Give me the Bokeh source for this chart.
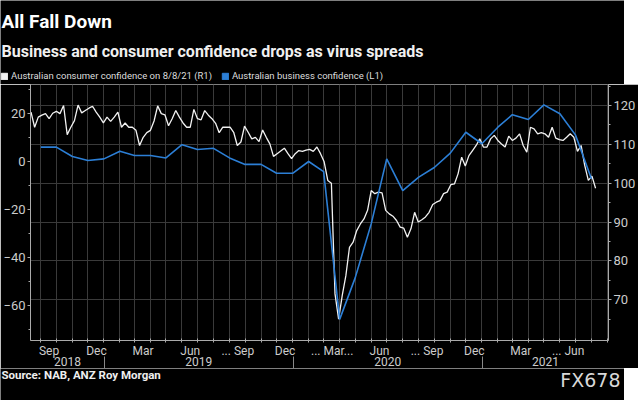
import numpy as np
import pandas as pd
from bokeh.plotting import figure
from bokeh.layouts import column
from bokeh.models import (Range1d, LinearAxis, FixedTicker, Label, Legend, LegendItem)
from bokeh.embed import file_html
from bokeh.resources import INLINE

# ---------------- text ----------------
title_text = "All Fall Down"
subtitle_text = "Business and consumer confidence drops as virus spreads"
source_text = "Source: NAB, ANZ Roy Morgan"
watermark_text = "FX678"
consumer_label = "Australian consumer confidence on 8/8/21 (R1)"
business_label = "Australian business confidence (L1)"

# ---------------- data ----------------
# ANZ-Roy Morgan weekly consumer confidence (right axis), first week 2018-08-12
consumer_start = "2018-08-12"
consumer_values = [
    118.3, 114.4, 117.0, 117.5, 117.9, 116.6, 118.0, 118.5, 117.9, 120.0,
    112.5, 114.4, 116.1, 120.1, 118.1, 118.7, 119.3, 119.8, 118.3, 117.0,
    115.5, 117.0, 115.9, 117.0, 118.3, 114.4, 115.5, 114.4, 114.4, 113.6,
    109.7, 111.8, 113.0, 113.6, 116.0, 119.9, 117.9, 117.6, 114.8, 116.6,
    118.7, 117.0, 115.5, 114.4, 114.4, 119.0, 116.6, 116.3, 118.7, 117.5,
    116.6, 115.4, 113.0, 114.4, 114.4, 114.4,
    113.1, 109.7, 110.6, 114.7, 113.1, 111.4, 111.8, 110.7, 113.7, 111.8,
    110.1, 106.9, 107.6, 108.3, 109.0, 107.6, 106.3, 107.6, 108.4, 108.2,
    108.5, 108.7, 108.2, 109.3, 107.6, 105.5, 100.7, 100.0, 71.5, 65.0,
    71.1, 76.2, 83.5, 84.8, 87.8, 89.5, 90.8, 93.0, 98.1, 97.3,
    97.7, 97.5, 93.0, 92.1, 91.5, 90.4, 88.7, 88.4, 86.1, 88.3,
    92.5, 90.0, 90.6, 91.3, 92.5, 94.5, 95.1, 95.5, 97.3, 97.7,
    99.6, 99.8, 102.4, 106.7, 104.4, 107.1, 108.4, 109.7, 111.4, 109.3,
    109.3, 111.4, 112.3, 111.0, 110.1, 109.3, 112.1, 111.0, 111.6, 112.7,
    109.7, 108.0, 114.4, 114.0, 112.7, 113.0, 112.7, 111.8, 114.4, 111.6,
    111.2, 111.0, 111.8, 112.7, 111.8, 108.2, 109.7, 104.6, 100.7, 101.8,
    98.7,
]

# NAB monthly business confidence (left axis), first month 2018-08
business_start = "2018-08"
business_values = [
    6.0, 6.0, 2.1, 0.4, 1.1,
    4.3, 2.5, 2.5, 1.5, 7.0, 5.0, 5.5, 1.5, -1.2, -1.2, -4.9, -4.9,
    0.0, -4.2, -65.8, -48.5, -26.0, 1.1, -12.1, -6.5, -2.5, 3.5, 12.2, 7.4,
    14.3, 19.5, 17.5, 23.6, 19.9, 11.1, -7.2,
]

# x axis labels
month_tick_months = ["2018-09", "2018-12", "2019-03", "2019-06", "2019-09", "2019-12",
                     "2020-03", "2020-06", "2020-09", "2020-12", "2021-03", "2021-06"]
month_tick_labels = ["Sep", "Dec", "Mar", "Jun", "... Sep", "Dec",
                     "... Mar...", "Jun", "... Sep", "Dec", "Mar", "... Jun"]
year_labels = [2018, 2019, 2020, 2021]

left_ticks = [-60, -40, -20, 0, 20]
right_ticks = [70, 80, 90, 100, 110, 120]

x_start = "2018-08-11"
x_end = "2021-09-02"
left_range = (-74.6, 32.1)
right_range = (59.5, 125.4)

# ---------------- helpers ----------------
def ms(t):
    return float(pd.Timestamp(t).value // 10**6)

cons_dates = pd.date_range(consumer_start, periods=len(consumer_values), freq="7D")
cons_x = [ms(d) for d in cons_dates]
bus_periods = pd.period_range(business_start, periods=len(business_values), freq="M")
bus_x = [ms(p.to_timestamp(how="start") + pd.offsets.MonthEnd(0)) for p in bus_periods]

xs, xe = ms(x_start), ms(x_end)
month_starts = pd.date_range(pd.Timestamp(x_start).to_period("M").to_timestamp(), x_end, freq="MS")
month_bounds = [ms(d - pd.Timedelta(days=1)) for d in month_starts]
month_bounds = [b for b in month_bounds if xs <= b <= xe]

mid_ticks = []
for m in month_tick_months:
    a = pd.Period(m, freq="M").to_timestamp(how="start")
    b = (pd.Period(m, freq="M") + 1).to_timestamp(how="start")
    mid_ticks.append(ms(a + (b - a) / 2))
month_overrides = {t: lab for t, lab in zip(mid_ticks, month_tick_labels)}

year_centers, year_bounds = [], []
for y in year_labels:
    a = max(ms(f"{y}-01-01"), xs)
    b = min(ms(f"{y + 1}-01-01"), xe)
    year_centers.append(float((a + b) / 2))
    if y > year_labels[0]:
        year_bounds.append(ms(f"{y}-01-01"))
year_overrides = {c: str(y) for c, y in zip(year_centers, year_labels)}

BG = "#000000"
TICK_COL = "#cccccc"
AX_COL = "#aaaaaa"
FONT = "Roboto"
BLUE = "#2c7fd6"
WHITE = "#f2f2f2"


def blank(h):
    f = figure(width=624, height=h, output_backend="svg", toolbar_location=None,
               x_range=Range1d(0, 1), y_range=Range1d(0, 1),
               x_axis_location=None, y_axis_location=None, frame_align=False,
               min_border=0, background_fill_color=BG, border_fill_color=BG,
               outline_line_color=None)
    f.grid.visible = False
    return f


# ---------------- header ----------------
head = blank(84)
head.add_layout(Label(x=1, y=63, x_units="screen", y_units="screen", text=title_text,
                      text_baseline="middle", text_color="#ffffff", text_font=FONT,
                      text_font_style="bold", text_font_size="19px"))
head.add_layout(Label(x=1, y=33, x_units="screen", y_units="screen", text=subtitle_text,
                      text_baseline="middle", text_color="#f0f0f0", text_font=FONT,
                      text_font_style="bold", text_font_size="16px"))
sw_c = head.quad(left=[-5], right=[-4], bottom=[-5], top=[-4], color=WHITE)
sw_b = head.quad(left=[-5], right=[-4], bottom=[-5], top=[-4], color=BLUE)
legend = Legend(items=[LegendItem(label=consumer_label, renderers=[sw_c]),
                       LegendItem(label=business_label, renderers=[sw_b])],
                orientation="horizontal", location=(0, 3),
                background_fill_alpha=0, border_line_alpha=0,
                label_text_color="#dddddd", label_text_font=FONT, label_text_font_size="9.5px",
                glyph_width=8, glyph_height=8, label_standoff=3, spacing=9,
                padding=0, margin=0, label_height=10)
head.add_layout(legend)

# ---------------- main chart ----------------
p = figure(output_backend="svg", toolbar_location=None,
           x_range=Range1d(xs, xe), y_range=Range1d(*right_range),
           y_axis_location="right", frame_width=578, frame_height=256, frame_align=False,
           min_border_left=23, min_border_top=0, min_border_bottom=0, min_border_right=0,
           background_fill_color=BG, border_fill_color=BG, outline_line_color=None)
p.extra_y_ranges = {"biz": Range1d(*left_range)}

ry = p.yaxis[0]
ry.ticker = FixedTicker(ticks=right_ticks, minor_ticks=list(np.arange(65, 126, 10)))
ly = LinearAxis(y_range_name="biz",
                ticker=FixedTicker(ticks=left_ticks, minor_ticks=list(np.arange(-70, 31, 20))))
p.add_layout(ly, "left")
for ax in (ry, ly):
    ax.axis_line_color = AX_COL
    ax.major_tick_line_color = AX_COL
    ax.minor_tick_line_color = AX_COL
    ax.major_tick_out = 3
    ax.major_tick_in = 0
    ax.minor_tick_out = 2
    ax.minor_tick_in = 0
    ax.major_label_text_color = TICK_COL
    ax.major_label_text_font = FONT
    ax.major_label_text_font_size = "13px"
    ax.major_label_standoff = 2

mx = p.xaxis[0]
mx.ticker = FixedTicker(ticks=mid_ticks, minor_ticks=month_bounds)
mx.major_label_overrides = month_overrides
mx.axis_line_color = AX_COL
mx.major_tick_line_color = None
mx.major_tick_out = 0
mx.major_tick_in = 0
mx.minor_tick_line_color = AX_COL
mx.minor_tick_out = 2
mx.minor_tick_in = 2
mx.major_label_text_color = TICK_COL
mx.major_label_text_font = FONT
mx.major_label_text_font_size = "12px"
mx.major_label_standoff = 1

yx = LinearAxis(ticker=FixedTicker(ticks=year_centers, minor_ticks=year_bounds))
yx.major_label_overrides = year_overrides
yx.axis_line_color = None
yx.major_tick_line_color = None
yx.major_tick_out = 0
yx.major_tick_in = 0
yx.minor_tick_line_color = "#888888"
yx.minor_tick_out = 8
yx.minor_tick_in = 4
yx.major_label_text_color = TICK_COL
yx.major_label_text_font = FONT
yx.major_label_text_font_size = "12px"
yx.major_label_standoff = -12
p.add_layout(yx, "below")

p.xgrid[0].ticker = FixedTicker(ticks=month_bounds)
p.xgrid[0].grid_line_color = "#3a3a3a"
p.ygrid[0].grid_line_color = "#3a3a3a"

p.line(cons_x, consumer_values, line_color=WHITE, line_width=1.3)
p.line(bus_x, business_values, y_range_name="biz", line_color=BLUE, line_width=1.6)

# ---------------- footer ----------------
foot = blank(32)
foot.add_layout(Label(x=1, y=26, x_units="screen", y_units="screen", text=source_text,
                      text_baseline="middle", text_color="#eeeeee", text_font=FONT,
                      text_font_style="bold", text_font_size="11.5px"))
foot.add_layout(Label(x=620, y=21, x_units="screen", y_units="screen", text=watermark_text,
                      text_baseline="middle", text_align="right", text_color="#d8d8d8",
                      text_font="DejaVu Sans", text_font_size="19px"))

layout = column(head, p, foot, spacing=0)
open("out.html", "w").write(file_html(layout, INLINE))
